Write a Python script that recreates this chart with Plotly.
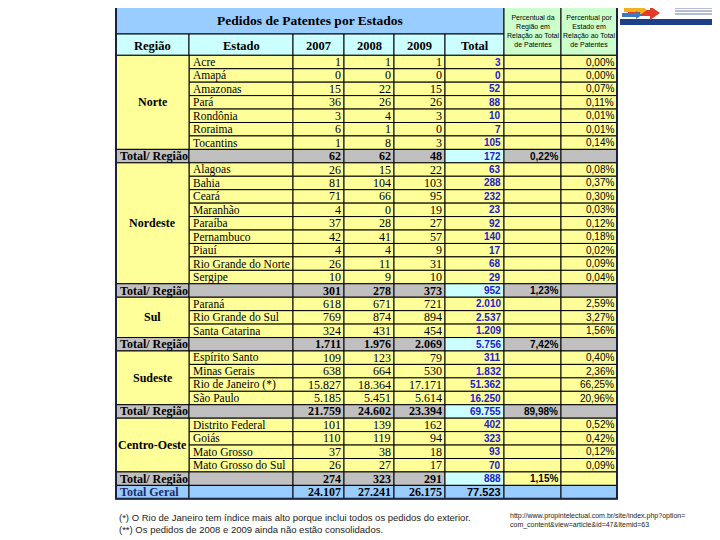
import plotly.graph_objects as go

# ---------------- data ----------------
regioes = ["Norte", "Nordeste", "Sul", "Sudeste", "Centro-Oeste"]

estados = ["Acre", "Amapá", "Amazonas", "Pará", "Rondônia", "Roraima", "Tocantins",
           "Alagoas", "Bahia", "Ceará", "Maranhão", "Paraíba", "Pernambuco", "Piauí",
           "Rio Grande do Norte", "Sergipe",
           "Paraná", "Rio Grande do Sul", "Santa Catarina",
           "Espírito Santo", "Minas Gerais", "Rio de Janeiro (*)", "São Paulo",
           "Distrito Federal", "Goiás", "Mato Grosso", "Mato Grosso do Sul"]
regiao_do_estado = (["Norte"] * 7 + ["Nordeste"] * 9 + ["Sul"] * 3 +
                    ["Sudeste"] * 4 + ["Centro-Oeste"] * 4)

v2007 = [1, 0, 15, 36, 3, 6, 1,
         26, 81, 71, 4, 37, 42, 4, 26, 10,
         618, 769, 324,
         109, 638, 15827, 5185,
         101, 110, 37, 26]
v2008 = [1, 0, 22, 26, 4, 1, 8,
         15, 104, 66, 0, 28, 41, 4, 11, 9,
         671, 874, 431,
         123, 664, 18364, 5451,
         139, 119, 38, 27]
v2009 = [1, 0, 15, 26, 3, 0, 3,
         22, 103, 95, 19, 27, 57, 9, 31, 10,
         721, 894, 454,
         79, 530, 17171, 5614,
         162, 94, 18, 17]
total_estado = [3, 0, 52, 88, 10, 7, 105,
                63, 288, 232, 23, 92, 140, 17, 68, 29,
                2010, 2537, 1209,
                311, 1832, 51362, 16250,
                402, 323, 93, 70]
pct_estado = [0.00, 0.00, 0.07, 0.11, 0.01, 0.01, 0.14,
              0.08, 0.37, 0.30, 0.03, 0.12, 0.18, 0.02, 0.09, 0.04,
              2.59, 3.27, 1.56,
              0.40, 2.36, 66.25, 20.96,
              0.52, 0.42, 0.12, 0.09]

reg_2007 = [62, 301, 1711, 21759, 274]
reg_2008 = [62, 278, 1976, 24602, 323]
reg_2009 = [48, 373, 2069, 23394, 291]
reg_total = [172, 952, 5756, 69755, 888]
reg_pct = [0.22, 1.23, 7.42, 89.98, 1.15]

geral = [24107, 27241, 26175, 77523]

titulo = "Pedidos de Patentes por Estados"
cabecalhos = ["Região", "Estado", "2007", "2008", "2009", "Total"]
cab_pct_regiao = "Percentual da<br>Região em<br>Relação ao Total<br>de Patentes"
cab_pct_estado = "Percentual por<br>Estado em<br>Relação ao Total<br>de Patentes"
nota1 = "(*) O Rio de Janeiro tem índice mais alto porque inclui todos os pedidos do exterior."
nota2 = "(**) Os pedidos de 2008 e 2009 ainda não estão consolidados."
fonte = "http://www.propintelectual.com.br/site/index.php?option=<br>com_content&view=article&id=47&Itemid=63"

# ---------------- layout constants ----------------
col_edges = [116, 189, 293, 344, 394, 445, 504, 561, 617]
head_top, head_mid, data_top = 7, 34, 55.3
row_h = 13.44
PAGE_OFFSET = 8  # default body margin of the html page

YELLOW = "#FFFF99"
GRAY = "#C0C0C0"
CYAN = "#CCFFFF"
BLUE = "#99CCFF"
GREEN = "#CCFFCC"
SERIF = "Liberation Serif"
SANS = "Liberation Sans"
TOTCOL = "#2020C8"


def fmt_int(n):
    return f"{n:,}".replace(",", ".")


def fmt_pct(p):
    return f"{p:.2f}%".replace(".", ",")


shapes = []
annotations = []


def cell(c0, c1, y0, y1, fill, lw=1):
    shapes.append(dict(type="rect", xref="x", yref="y",
                       x0=col_edges[c0], x1=col_edges[c1], y0=y0, y1=y1,
                       fillcolor=fill, line=dict(color="black", width=lw), layer="below"))


def text(t, x, y, size, family, color="black", bold=False, xanchor="center"):
    if bold:
        t = "<b>" + t + "</b>"
    annotations.append(dict(text=t, x=x, y=y, xref="x", yref="y", showarrow=False,
                            xanchor=xanchor, yanchor="middle",
                            font=dict(size=size, family=family, color=color)))


def right(c, y, t, size, family, color="black", bold=False):
    text(t, col_edges[c + 1] - 1.5, y, size, family, color, bold, "right")


def left(c, y, t, size, family, color="black", bold=False):
    text(t, col_edges[c] + 1.5, y, size, family, color, bold, "left")


def mid(c0, c1, y, t, size, family, color="black", bold=False):
    text(t, (col_edges[c0] + col_edges[c1]) / 2, y, size, family, color, bold, "center")


# header
cell(0, 6, head_top, head_mid, BLUE)
mid(0, 6, (head_top + head_mid) / 2, titulo, 13.5, SERIF, bold=True)
for i, h in enumerate(cabecalhos):
    cell(i, i + 1, head_mid, data_top, CYAN)
    mid(i, i + 1, (head_mid + data_top) / 2 + 1, h, 12.5, SERIF, bold=True)
cell(6, 7, head_top, data_top, GREEN)
cell(7, 8, head_top, data_top, GREEN)
mid(6, 7, (head_top + data_top) / 2, cab_pct_regiao, 7, SANS)
mid(7, 8, (head_top + data_top) / 2, cab_pct_estado, 7, SANS)

# body
row = 0
for ri, reg in enumerate(regioes):
    idx = [k for k, r in enumerate(regiao_do_estado) if r == reg]
    y_start = data_top + row * row_h
    for k in idx:
        y0 = data_top + row * row_h
        y1 = y0 + row_h
        yc = (y0 + y1) / 2
        for c in range(1, 8):
            cell(c, c + 1, y0, y1, YELLOW)
        left(1, yc, estados[k], 11.5, SERIF)
        right(2, yc, fmt_int(v2007[k]), 12, SERIF)
        right(3, yc, fmt_int(v2008[k]), 12, SERIF)
        right(4, yc, fmt_int(v2009[k]), 12, SERIF)
        right(5, yc, fmt_int(total_estado[k]), 10, SANS, TOTCOL, bold=True)
        right(7, yc, fmt_pct(pct_estado[k]), 10, SANS)
        row += 1
    y_end = data_top + row * row_h
    cell(0, 1, y_start, y_end, YELLOW)
    mid(0, 1, (y_start + y_end) / 2, reg, 12, SERIF, bold=True)
    # region total row
    y0 = data_top + row * row_h
    y1 = y0 + row_h
    yc = (y0 + y1) / 2
    last_fill = YELLOW if reg == "Centro-Oeste" else GRAY
    fills = [GRAY, GRAY, GRAY, GRAY, GRAY, CYAN, last_fill, last_fill]
    for c in range(8):
        cell(c, c + 1, y0, y1, fills[c])
    left(0, yc, "Total/ Região", 12, SERIF, bold=True)
    right(2, yc, fmt_int(reg_2007[ri]), 12, SERIF, bold=True)
    right(3, yc, fmt_int(reg_2008[ri]), 12, SERIF, bold=True)
    right(4, yc, fmt_int(reg_2009[ri]), 12, SERIF, bold=True)
    right(5, yc, fmt_int(reg_total[ri]), 10, SANS, TOTCOL, bold=True)
    right(6, yc, fmt_pct(reg_pct[ri]), 10, SANS, bold=True)
    row += 1

# total geral
y0 = data_top + row * row_h
y1 = y0 + row_h
yc = (y0 + y1) / 2
for c in range(8):
    cell(c, c + 1, y0, y1, BLUE)
left(0, yc, "Total Geral", 12, SERIF, color="#1a2a6a", bold=True)
for j in range(3):
    right(2 + j, yc, fmt_int(geral[j]), 12, SERIF, bold=True)
right(5, yc, fmt_int(geral[3]), 11, SANS, bold=True)
row += 1
table_bottom = data_top + row * row_h

# outer frame
shapes.append(dict(type="rect", xref="x", yref="y", x0=col_edges[0], x1=col_edges[-1],
                   y0=head_top, y1=table_bottom, line=dict(color="#1a2240", width=2),
                   fillcolor="rgba(0,0,0,0)", layer="above"))

# notes
annotations.append(dict(text=nota1 + "<br>" + nota2, x=117, y=510, xref="x", yref="y",
                        showarrow=False, xanchor="left", yanchor="top", align="left",
                        font=dict(size=9.5, family=SANS, color="#222222")))
annotations.append(dict(text=fonte, x=508, y=510, xref="x", yref="y",
                        showarrow=False, xanchor="left", yanchor="top", align="left",
                        font=dict(size=7, family=SANS, color="#222222")))

# small logo approximation (top right)
shapes.append(dict(type="rect", xref="x", yref="y", x0=620, x1=720, y0=19, y1=25,
                   fillcolor="#1d3f8a", line=dict(width=0)))
shapes.append(dict(type="path", xref="x", yref="y",
                   path="M 628 10 L 650 10 L 650 6 L 660 13 L 650 20 L 650 16 L 628 16 Z",
                   fillcolor="#e23b2a", line=dict(width=0)))
shapes.append(dict(type="path", xref="x", yref="y",
                   path="M 624 8 L 640 8 L 640 5 L 647 10 L 640 15 L 640 12 L 624 12 Z",
                   fillcolor="#f2b01e", line=dict(width=0)))
shapes.append(dict(type="path", xref="x", yref="y",
                   path="M 622 13 L 636 13 L 636 11 L 642 15 L 636 19 L 636 17 L 622 17 Z",
                   fillcolor="#3a78c8", line=dict(width=0)))
for yy in (8, 11, 14):
    shapes.append(dict(type="line", xref="x", yref="y", x0=675, x1=712, y0=yy, y1=yy,
                       line=dict(color="#9aa8c0", width=1.5)))

fig = go.Figure()
fig.update_layout(
    width=720, height=540,
    margin=dict(l=0, r=0, t=0, b=0),
    paper_bgcolor="white", plot_bgcolor="white",
    xaxis=dict(range=[PAGE_OFFSET, 720 + PAGE_OFFSET], visible=False, fixedrange=True),
    yaxis=dict(range=[540 + PAGE_OFFSET, PAGE_OFFSET], visible=False, fixedrange=True),
    shapes=shapes, annotations=annotations, showlegend=False,
)
fig.write_html("out.html")
